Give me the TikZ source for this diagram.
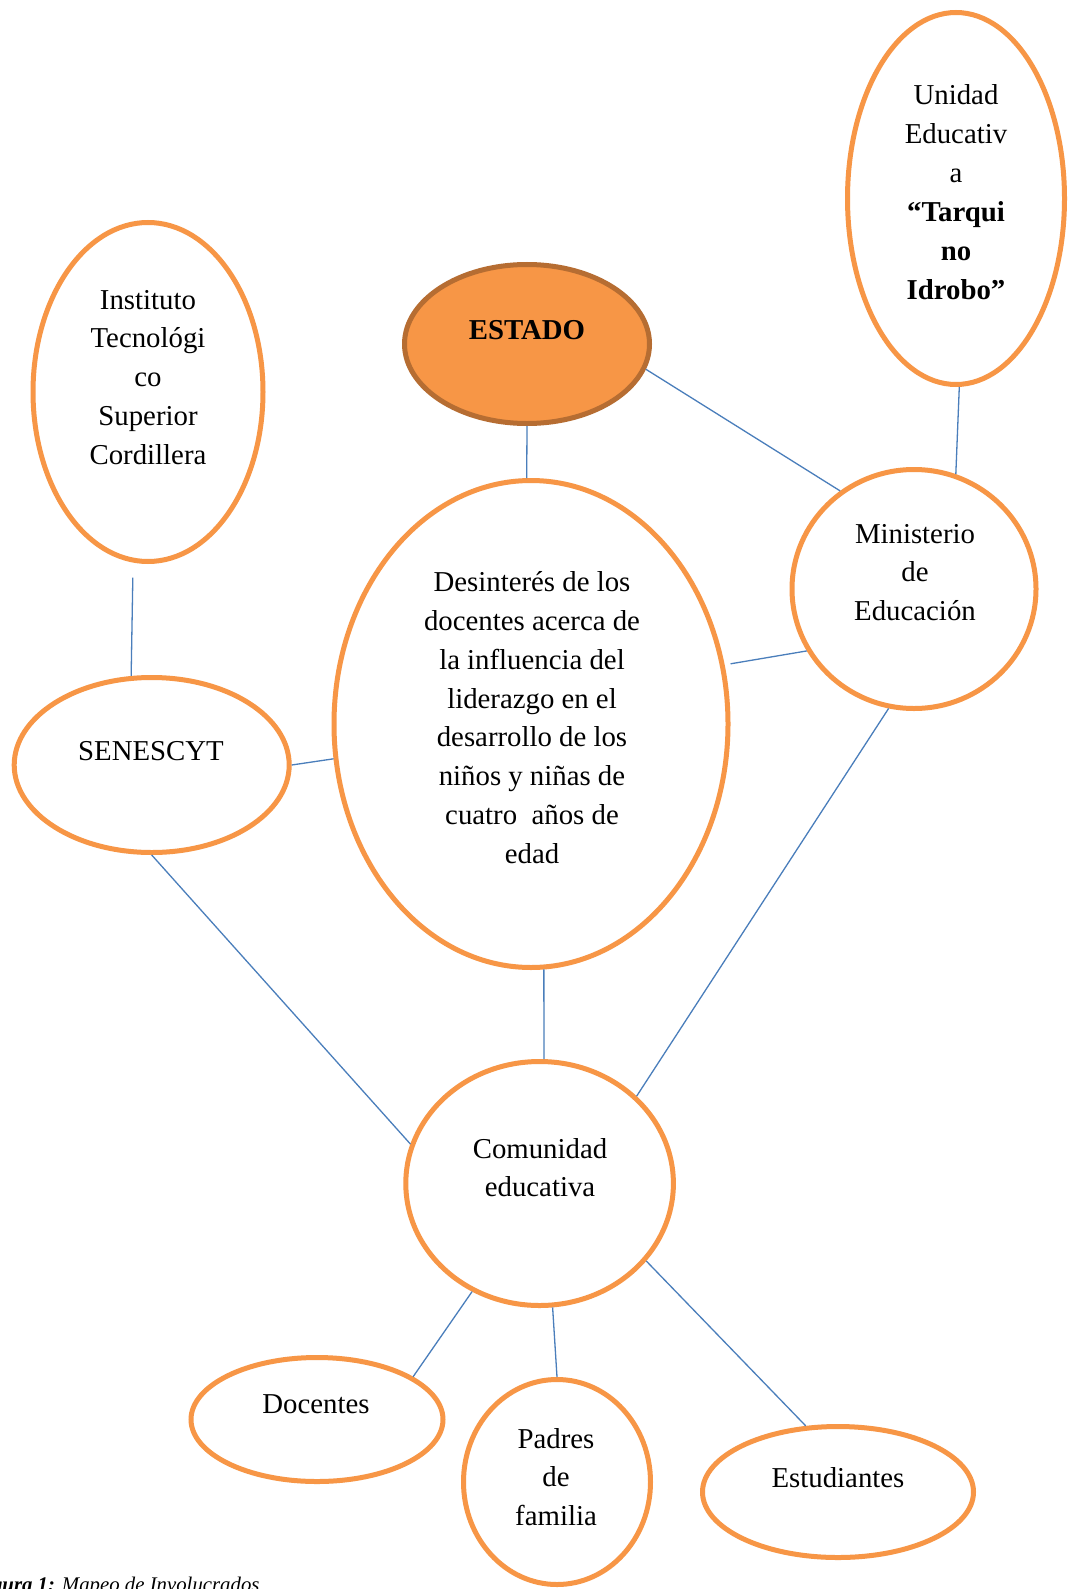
\documentclass[tikz,border=0pt]{standalone}
\usepackage{fontspec}
\setmainfont{Liberation Serif}
\usetikzlibrary{shapes.geometric}
\definecolor{orangeA}{HTML}{F79646}
\definecolor{estadoB}{RGB}{182,109,50}
\definecolor{lineB}{HTML}{4A7EBB}
\newcommand\fstrut{\rule{0pt}{1em}}
\begin{document}
\begin{tikzpicture}[x=0.5pt,y=-0.5pt,
  oval/.style 2 args={ellipse, draw=orangeA, line width=2.5pt, fill=white, inner sep=0pt, minimum width=#1pt, minimum height=#2pt},
  txt/.style={anchor=north, inner sep=0pt, outer sep=0pt, align=center, font=\fontsize{14.4}{19.45}\selectfont},
  link/.style={draw=lineB, line width=0.65pt}]
\path[fill=white, use as bounding box] (0,0) rectangle (1068,1589);

% ellipses
\node[oval={108.5}{186}] (unidad) at (956,198.5) {};
\node[oval={115}{169.5}] (instituto) at (148,392) {};
\node[oval={122.5}{79.5}, draw=estadoB, fill=orangeA] (estado) at (527,344) {};
\node[oval={197}{243.5}] (central) at (531,724) {};
\node[oval={122}{119.5}] (ministerio) at (914,589) {};
\node[oval={137.5}{87.5}] (senescyt) at (151.7,765) {};
\node[oval={133.8}{122}] (comunidad) at (539.6,1183.5) {};
\node[oval={126}{62}] (docentes) at (317,1419.5) {};
\node[oval={93.5}{102.5}] (padres) at (557,1482) {};
\node[oval={135.5}{65.5}] (estudiantes) at (838,1492) {};

% texts
\node[txt] (unidadT) at (956,76.2) {\fstrut Unidad\\Educativ\\a\\\textbf{“Tarqui}\\\textbf{no}\\\textbf{Idrobo”}};
\node[txt] (institutoT) at (148,280.2) {\fstrut Instituto\\Tecnológi\\co\\Superior\\Cordillera};
\node[txt] (estadoT) at (527,310.2) {\fstrut\textbf{ESTADO}};
\node[txt] (centralT) at (532,562.5) {\fstrut Desinterés de los\\docentes acerca de\\la influencia del\\liderazgo en el\\desarrollo de los\\niños y niñas de\\cuatro\ \ años de\\edad};
\node[txt] (ministerioT) at (915,514.2) {\fstrut Ministerio\\de\\Educación};
\node[txt] (senescytT) at (151,731.2) {\fstrut SENESCYT};
\node[txt] (comunidadT) at (540,1129.2) {\fstrut Comunidad\\educativa};
\node[txt] (docentesT) at (316,1384.2) {\fstrut Docentes};
\node[txt] (padresT) at (556,1419.2) {\fstrut Padres\\de\\familia};
\node[txt] (estudiantesT) at (838,1458.2) {\fstrut Estudiantes};

% caption
\node[anchor=base west, inner sep=0pt, font=\fontsize{10.4}{12}\selectfont] (caption) at (-28,1591) {\textbf{\textit{Figura 1:}} \textit{Mapeo de Involucrados}};

% connectors
\draw[link] (estado.-90.5) -- (central.91.2);
\draw[link] (estado.-12) -- (ministerio.127);
\draw[link] (unidad.-89) -- (ministerio.70);
\draw[link, shorten <=7.5pt] (instituto.-95.5) -- (senescyt.103.5);
\draw[link] (senescyt.0) -- (central.190);
\draw[link, shorten <=3pt] (central.17.9) -- (ministerio.210.1);
\draw[link] (central.-87.4) -- (comunidad.88.7);
\draw[link] (senescyt.-90) -- (comunidad.163.3);
\draw[link] (ministerio.258.8) -- (comunidad.42);
\draw[link] (comunidad.238.1) -- (docentes.24.7);
\draw[link] (comunidad.-84.4) -- (padres.90);
\draw[link] (comunidad.-36.5) -- (estudiantes.116.4);
\end{tikzpicture}
\end{document}
